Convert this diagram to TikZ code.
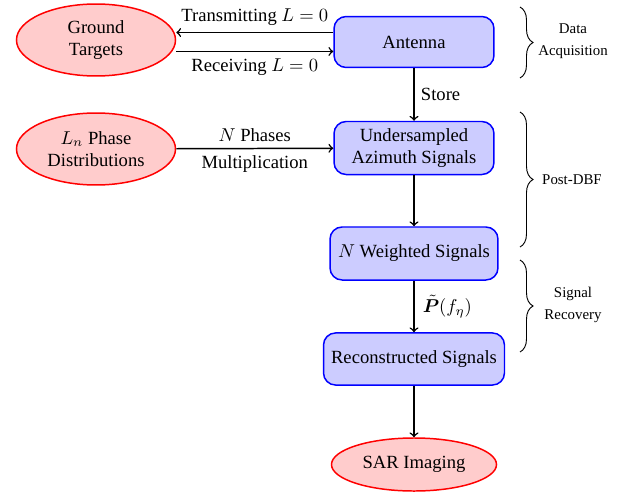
\documentclass[tikz,border=0pt]{standalone}
\usepackage{amsmath,bm}
\usepackage{fontspec}
\setmainfont{Liberation Serif}
\usetikzlibrary{shapes.geometric,decorations.pathreplacing}

\tikzset{
  ell/.style={ellipse, draw=red, fill=red!20, thick, inner sep=0pt, align=center},
  blk/.style={rectangle, rounded corners=6.5pt, draw=blue, fill=blue!20, thick, inner sep=0pt, align=center},
  arr/.style={->, thick},
  brc/.style={decorate, decoration={brace, amplitude=7pt}, line width=0.5pt},
  lbl/.style={font=\footnotesize, align=center}
}

\begin{document}
\begin{tikzpicture}[x=0.5376pt, y=-0.5376pt]
  \useasboundingbox (0,0) rectangle (628,492);

  % main blocks
  \node[ell, minimum width=85.5pt, minimum height=38.7pt] (gt) at (96,40) {Ground\\Targets};
  \node[blk, minimum width=86pt, minimum height=27.4pt] (ant) at (414,42) {Antenna};
  \node[ell, minimum width=85.5pt, minimum height=38.7pt] (pd) at (96,149) {$L_n$ Phase\\Distributions};
  \node[blk, minimum width=86pt, minimum height=28.5pt] (us) at (414,148) {Undersampled\\Azimuth Signals};
  \node[blk, minimum width=90.3pt, minimum height=28.5pt] (nw) at (414,253.5) {$N$ Weighted Signals};
  \node[blk, minimum width=97.3pt, minimum height=28pt] (rec) at (414,359) {Reconstructed Signals};
  \node[ell, minimum width=88.7pt, minimum height=28.5pt] (sar) at (414,464.5) {SAR Imaging};

  % transmit / receive links
  \coordinate (tx) at ([yshift=5.1pt]ant.west);
  \coordinate (rx) at ([yshift=-5.1pt]ant.west);
  \draw[arr] (tx) -- (tx -| gt.east) node[midway, above] {Transmitting $L=0$};
  \draw[arr] (rx -| gt.east) -- (rx) node[midway, below] {Receiving $L=0$};

  % processing chain
  \draw[arr] (ant) -- (us) node[midway, right] {Store};
  \draw[arr] (pd) -- (us) node[midway, above] {$N$ Phases} node[midway, below] {Multiplication};
  \draw[arr] (us) -- (nw);
  \draw[arr] (nw) -- (rec) node[midway, right, xshift=1pt] {$\tilde{\bm{P}}(f_\eta)$};
  \draw[arr] (rec) -- (sar);

  % stage braces
  \coordinate (b1a) at (520,7);
  \coordinate (b1b) at (520,78);
  \coordinate (b2a) at (520,112);
  \coordinate (b2b) at (520,247);
  \coordinate (b3a) at (520,260);
  \coordinate (b3b) at (520,352);
  \draw[brc] (b1a) -- (b1b);
  \draw[brc] (b2a) -- (b2b);
  \draw[brc] (b3a) -- (b3b);
  \node[lbl] (s1) at (573,41) {Data\\[2.3pt]Acquisition};
  \node[lbl] (s2) at (572,180) {Post-DBF};
  \node[lbl] (s3) at (573,305) {Signal\\[2.3pt]Recovery};
\end{tikzpicture}
\end{document}
